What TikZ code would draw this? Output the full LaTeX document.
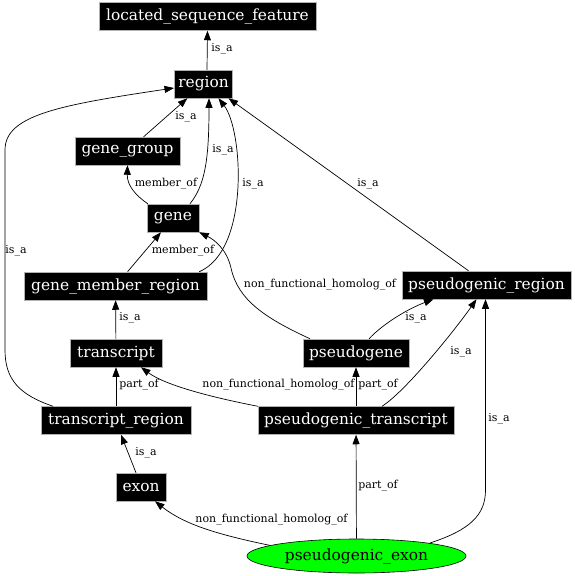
\documentclass[tikz,border=0pt]{standalone}
\usepackage{fontspec}
\setmainfont{DejaVu Serif}
\usetikzlibrary{arrows.meta,shapes.geometric}
\begin{document}
\begin{tikzpicture}[x=1pt,y=-1pt,
 box/.style={fill=black,draw=gray!60,line width=0.5pt,text=white,font=\fontsize{15.4}{18}\selectfont,minimum height=28pt,inner xsep=4pt,inner ysep=0pt},
 oval/.style={ellipse,fill=green,draw=black,line width=0.6pt,font=\fontsize{15.4}{18}\selectfont,minimum width=219pt,minimum height=34pt,inner sep=0pt},
 lbl/.style={font=\fontsize{11}{13}\selectfont,inner sep=0pt},
 edge/.style={draw,line width=0.7pt,-{Triangle[length=9.5pt,width=7pt]}}]
\useasboundingbox (0,0) rectangle (574,576);
% nodes
\node[box,minimum width=217pt] (lsf) at (207.5,16.5) {located\_sequence\_feature};
\node[box,minimum width=55pt] (region) at (203.5,84) {region};
\node[box,minimum width=105pt] (gg) at (127.5,151) {gene\_group};
\node[box,minimum width=52pt] (gene) at (173,218) {gene};
\node[box,minimum width=183pt] (gmr) at (115.5,286) {gene\_member\_region};
\node[box,minimum width=92pt] (tr) at (116,353) {transcript};
\node[box,minimum width=150pt] (trr) at (116,420.5) {transcript\_region};
\node[box,minimum width=50pt] (exon) at (141,487) {exon};
\node[box,minimum width=169pt] (pr) at (486.5,285) {pseudogenic\_region};
\node[box,minimum width=106pt] (pg) at (356,353) {pseudogene};
\node[box,minimum width=196pt] (pt) at (356,420.5) {pseudogenic\_transcript};
\node[oval] (pe) at (356.5,556) {pseudogenic\_exon};
% edges
\draw[edge] ([xshift=3.5pt]region.north) -- (lsf.south);
\draw[edge] (gg) -- (region);
\draw[edge] ([xshift=17pt]gene.north) .. controls (205,185) and (209,160) .. ([xshift=5.5pt]region.south);
\draw[edge] ([xshift=1pt]gene.north west) .. controls (135,195) and (127,185) .. (gg.south);
\draw[edge] (gmr) -- (gene);
\draw[edge] ([xshift=-8pt]gmr.north east) .. controls (250,250) and (243,130) .. ([xshift=15pt]region.south);
\draw[edge] ([xshift=-18pt]pr.north) -- ([xshift=25pt]region.south);
\draw[edge] ([xshift=-46pt]pg.north) .. controls (265,318) and (238,300) .. (231,268) .. controls (227,250) and (215,240) .. (gene.south east);
\draw[edge] ([xshift=13pt]pg.north) .. controls (385,322) and (410,308) .. ([xshift=-53pt]pr.south);
\draw[edge] (tr) -- (gmr);
\draw[edge] (trr) -- (tr);
\draw[edge] (pt.north west) .. controls (210,397) and (165,385) .. ([xshift=25pt]tr.south);
\draw[edge] (pt) -- (pg);
\draw[edge] ([xshift=26pt]pt.north) .. controls (405,392) and (455,330) .. ([xshift=-10pt]pr.south);
\draw[edge] ([xshift=-63pt]trr.north) .. controls (20,395) and (5,380) .. (5,350) -- (5,150) .. controls (5,115) and (60,105) .. ([yshift=-4pt]region.west);
\draw[edge] ([xshift=-5pt]exon.north) -- ([xshift=5pt]trr.south);
\draw[edge] (pe.173) .. controls (220,535) and (185,525) .. ([xshift=14pt]exon.south);
\draw[edge] (pe) -- (pt);
\draw[edge] (pe.10) .. controls (470,530) and (485.5,515) .. (485.5,490) -- ([xshift=-1pt]pr.south);
% labels
\node[lbl] (l1) at (222,49) {is\_a};
\node[lbl] (l2) at (186,117) {is\_a};
\node[lbl] (l3) at (223,150) {is\_a};
\node[lbl] (l4) at (166,184) {member\_of};
\node[lbl] (l5) at (253,184) {is\_a};
\node[lbl] (l6) at (183,251) {member\_of};
\node[lbl] (l7) at (16,251) {is\_a};
\node[lbl] (l8) at (368,184) {is\_a};
\node[lbl] (l9) at (320,285) {non\_functional\_homolog\_of};
\node[lbl] (l10) at (130,318) {is\_a};
\node[lbl] (l11) at (416,318) {is\_a};
\node[lbl] (l12) at (461,352) {is\_a};
\node[lbl] (l13) at (139,385) {part\_of};
\node[lbl] (l14) at (278.5,385) {non\_functional\_homolog\_of};
\node[lbl] (l15) at (378,385) {part\_of};
\node[lbl] (l16) at (146,453) {is\_a};
\node[lbl] (l17) at (499,419) {is\_a};
\node[lbl] (l18) at (378,486) {part\_of};
\node[lbl] (l19) at (271.5,520) {non\_functional\_homolog\_of};
\end{tikzpicture}
\end{document}
